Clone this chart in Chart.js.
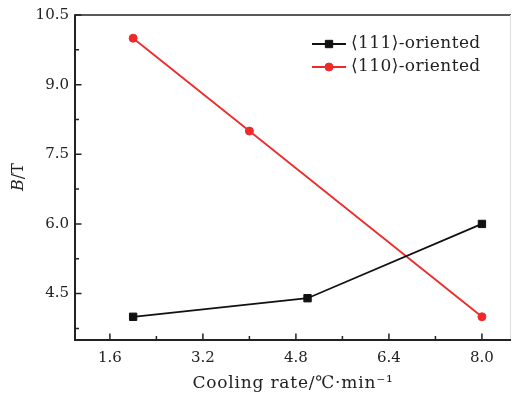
<!DOCTYPE html>
<html>
<head>
<meta charset="utf-8">
<script src="https://cdn.jsdelivr.net/npm/chart.js@4"></script>
<style>
html,body{margin:0;padding:0;background:#fff;}
#wrap{width:512px;height:401px;position:relative;}
</style>
</head>
<body>
<div id="wrap"><canvas id="c" width="512" height="401"></canvas></div>
<script>
// ---- data ----
const seriesNames = ['\u27E8111\u27E9-oriented', '\u27E8110\u27E9-oriented'];
const rate111 = [2.0, 5.0, 8.0];
const field111 = [4.0, 4.4, 6.0];
const rate110 = [2.0, 4.0, 8.0];
const field110 = [10.0, 8.0, 4.0];
const xTickValues = [1.6, 3.2, 4.8, 6.4, 8.0];
const yTickValues = [4.5, 6.0, 7.5, 9.0, 10.5];
const xTitle = 'Cooling rate/\u2103\u00B7min\u207B\u00B9';

const FONT = '"DejaVu Serif", "Liberation Serif", serif';
const RED = '#ee2a2a';

function pts(xs, ys){ return xs.map((x,i)=>({x:x, y:ys[i]})); }

const axesPlugin = {
  id: 'axesPlugin',
  afterDatasetsDraw(chart){
    const ctx = chart.ctx, a = chart.chartArea;
    const xs = chart.scales.x, ys = chart.scales.y;
    ctx.save();
    ctx.strokeStyle = '#222';
    ctx.lineWidth = 1.5;
    ctx.beginPath();
    ctx.moveTo(a.left, a.top); ctx.lineTo(a.right, a.top);
    ctx.stroke();
    ctx.strokeStyle = '#ddd'; ctx.lineWidth = 1;
    ctx.beginPath(); ctx.moveTo(a.right-0.5, a.top); ctx.lineTo(a.right-0.5, a.bottom); ctx.stroke();
    ctx.strokeStyle = '#222';
    ctx.lineWidth = 2;
    ctx.beginPath();
    ctx.moveTo(a.left, a.top - 0.75); ctx.lineTo(a.left, a.bottom); ctx.lineTo(a.right, a.bottom);
    ctx.stroke();
    ctx.lineWidth = 1.5;
    ctx.beginPath();
    xTickValues.forEach((v,i)=>{
      const p = xs.getPixelForValue(v);
      ctx.moveTo(p, a.bottom); ctx.lineTo(p, a.bottom - 6.5);
      if (i < xTickValues.length - 1) {
        const m = xs.getPixelForValue((v + xTickValues[i+1]) / 2);
        ctx.moveTo(m, a.bottom); ctx.lineTo(m, a.bottom - 4);
      }
    });
    const yMinor = [3.75].concat(yTickValues.slice(0,-1).map((v,i)=>(v+yTickValues[i+1])/2));
    yTickValues.forEach(v=>{
      const p = ys.getPixelForValue(v);
      ctx.moveTo(a.left, p); ctx.lineTo(a.left + 6.5, p);
    });
    yMinor.forEach(v=>{
      const p = ys.getPixelForValue(v);
      ctx.moveTo(a.left, p); ctx.lineTo(a.left + 4, p);
    });
    ctx.stroke();

    // axis titles
    ctx.fillStyle = '#222';
    ctx.font = '17px ' + FONT;
    ctx.letterSpacing = '0.8px';
    ctx.textAlign = 'center';
    ctx.textBaseline = 'middle';
    ctx.fillText(xTitle, (a.left + a.right) / 2, 384);
    ctx.letterSpacing = '0px';

    ctx.save();
    ctx.translate(19, 177);
    ctx.rotate(-Math.PI/2);
    ctx.font = 'italic 16px ' + FONT;
    const wB = ctx.measureText('B').width;
    ctx.font = '16px ' + FONT;
    const wR = ctx.measureText('/T').width;
    const start = -(wB + wR) / 2;
    ctx.textAlign = 'left';
    ctx.font = 'italic 16px ' + FONT;
    ctx.fillText('B', start, 0);
    ctx.font = '16px ' + FONT;
    ctx.fillText('/T', start + wB, 0);
    ctx.restore();

    // legend
    const legY = [44, 67];
    chart.data.datasets.forEach((ds, i)=>{
      const y = legY[i];
      ctx.strokeStyle = ds.borderColor;
      ctx.lineWidth = ds.borderWidth;
      ctx.beginPath(); ctx.moveTo(312, y); ctx.lineTo(346, y); ctx.stroke();
      ctx.fillStyle = ds.pointBackgroundColor;
      ctx.strokeStyle = ds.borderColor;
      ctx.lineWidth = ds.pointBorderWidth;
      Chart.helpers.drawPoint(ctx, {pointStyle: ds.pointStyle, radius: ds.pointRadius, borderWidth: ds.pointBorderWidth}, 329, y);
      ctx.fillStyle = '#222';
      ctx.font = '17px ' + FONT;
      ctx.letterSpacing = '0.4px';
      ctx.textAlign = 'left';
      ctx.textBaseline = 'middle';
      ctx.fillText(ds.label, 351, y);
      ctx.letterSpacing = '0px';
    });
    ctx.restore();
  }
};

new Chart(document.getElementById('c'), {
  type: 'scatter',
  data: {
    datasets: [
      {
        label: seriesNames[0],
        data: pts(rate111, field111),
        showLine: true,
        borderColor: '#111',
        backgroundColor: '#111',
        pointBackgroundColor: '#111',
        borderWidth: 1.8,
        pointStyle: 'rect',
        pointRadius: 5.2,
        pointBorderWidth: 1,
        pointHoverRadius: 5.2
      },
      {
        label: seriesNames[1],
        data: pts(rate110, field110),
        showLine: true,
        borderColor: RED,
        backgroundColor: RED,
        pointBackgroundColor: RED,
        borderWidth: 1.8,
        pointStyle: 'circle',
        pointRadius: 4,
        pointBorderWidth: 1,
        pointHoverRadius: 4
      }
    ]
  },
  options: {
    responsive: false,
    animation: false,
    events: [],
    layout: { autoPadding: false, padding: { top: 15, right: 1, bottom: 0, left: 0 } },
    plugins: { legend: { display: false }, tooltip: { enabled: false } },
    scales: {
      x: {
        type: 'linear', min: 1.0, max: 8.5,
        grid: { display: false, drawTicks: false },
        border: { display: false },
        afterBuildTicks(s){ s.ticks = xTickValues.map(v=>({value:v})); },
        afterFit(s){ s.height = 61; s.paddingLeft = 0; s.paddingRight = 0; },
        ticks: {
          color: '#222', padding: 9,
          font: { family: FONT, size: 15 },
          callback: v => Number(v).toFixed(1),
          maxRotation: 0, autoSkip: false
        }
      },
      y: {
        type: 'linear', min: 3.5, max: 10.5,
        grid: { display: false, drawTicks: false },
        border: { display: false },
        afterBuildTicks(s){ s.ticks = yTickValues.map(v=>({value:v})); },
        afterFit(s){ s.width = 75; s.paddingTop = 0; s.paddingBottom = 0; },
        ticks: {
          color: '#222', padding: 6,
          font: { family: FONT, size: 15 },
          callback: v => Number(v).toFixed(1),
          autoSkip: false
        }
      }
    }
  },
  plugins: [axesPlugin]
});
</script>
</body>
</html>
